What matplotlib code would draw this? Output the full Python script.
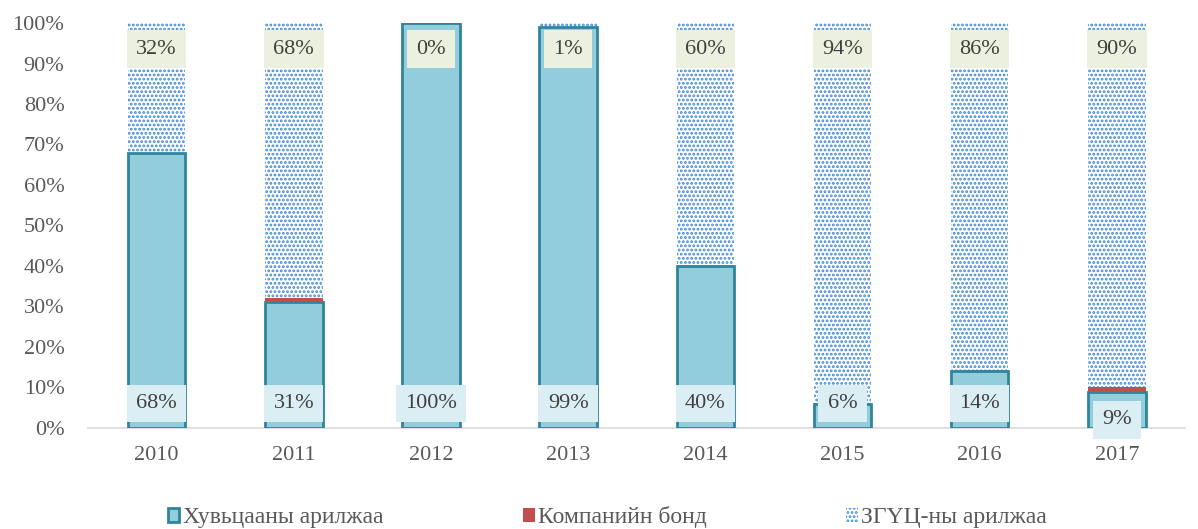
import matplotlib
matplotlib.use("Agg")
import matplotlib.pyplot as plt
import numpy as np
from matplotlib.patches import Patch

years = ["2010", "2011", "2012", "2013", "2014", "2015", "2016", "2017"]
stock = [68, 31, 100, 99, 40, 6, 14, 9]
bond = [0, 1, 0, 0, 0, 0, 0, 1]
govt = [32, 68, 0, 1, 60, 94, 86, 90]
series_names = ["Хувьцааны арилжаа", "Компанийн бонд", "ЗГҮЦ-ны арилжаа"]

plt.rcParams['font.family'] = ['Liberation Serif', 'DejaVu Serif']
plt.rcParams['hatch.linewidth'] = 1.35

fig = plt.figure(figsize=(11.98, 5.29), dpi=100)
ax = fig.add_axes([0.0735, 0.191, 0.916, 0.7655])

x = np.arange(len(years))
w = 0.42
stock_a = np.array(stock, float)
bond_a = np.array(bond, float)
govt_a = np.array(govt, float)

hatch_col = '#3f88d8'
ax.bar(x, stock_a, w, color='#92cddc', edgecolor='#31849b', linewidth=2, zorder=3)
ax.bar(x, bond_a, w, bottom=stock_a, color='#c0504d', linewidth=0, zorder=3)
ax.bar(x, govt_a, w, bottom=stock_a + bond_a, color='white', edgecolor=hatch_col,
       hatch='....', linewidth=0, zorder=2)

fs = 16
lbl_y = [6, 6, 6, 6, 6, 6, 6, 2]
for i in range(len(years)):
    ax.text(x[i], lbl_y[i], f"{stock[i]}%", ha='center', va='center', fontsize=fs,
            color='#404040', zorder=5,
            bbox=dict(boxstyle='square,pad=0.42', fc='#daeef3', ec='none'))
    ax.text(x[i], 93.5, f"{govt[i]}%", ha='center', va='center', fontsize=fs,
            color='#404040', zorder=5,
            bbox=dict(boxstyle='square,pad=0.42', fc='#ebf1de', ec='none'))

ax.set_xlim(-0.5, len(years) - 0.5)
ax.set_ylim(0, 100)
ax.set_yticks(np.arange(0, 101, 10))
ax.set_yticklabels([f"{v}%" for v in range(0, 101, 10)])
ax.set_xticks(x)
ax.set_xticklabels(years)
ax.tick_params(axis='both', length=0, labelsize=fs, labelcolor='#595959')
ax.tick_params(axis='x', pad=13)
ax.tick_params(axis='y', pad=17)
for s in ['top', 'right', 'left']:
    ax.spines[s].set_visible(False)
ax.spines['bottom'].set_color('#d9d9d9')
ax.spines['bottom'].set_linewidth(1.2)
ax.spines['bottom'].set_zorder(1)

handles = [
    Patch(facecolor='#92cddc', edgecolor='#31849b', linewidth=2),
    Patch(facecolor='#c0504d', edgecolor='none'),
    Patch(facecolor='white', edgecolor=hatch_col, hatch='....', linewidth=0),
]
leg = fig.legend(handles, series_names, loc='center', bbox_to_anchor=(0.507, 0.022),
                 ncol=3, frameon=False, fontsize=17, handlelength=0.5, handleheight=0.55,
                 handletextpad=0.15, columnspacing=5.9, labelcolor='#595959')

fig.savefig("out.png", dpi=100)
